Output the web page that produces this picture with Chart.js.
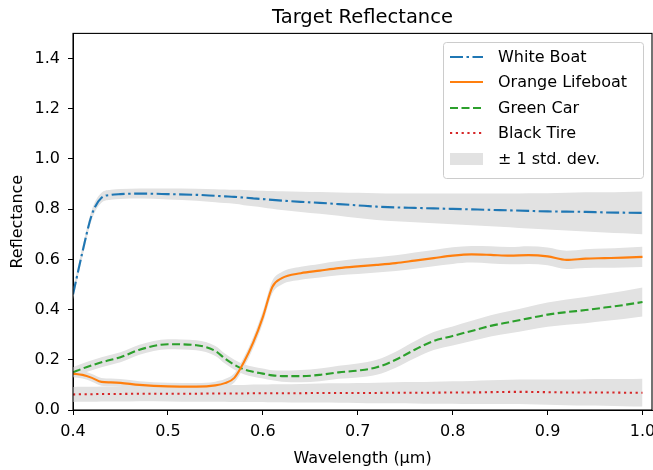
<!DOCTYPE html>
<html>
<head>
<meta charset="utf-8">
<script src="https://cdn.jsdelivr.net/npm/chart.js@4/dist/chart.umd.min.js"></script>
<style>
  html, body { margin: 0; padding: 0; background: #fff; }
  #wrap { width: 653px; height: 470px; }
</style>
</head>
<body>
<div id="wrap"><canvas id="refl" width="653" height="470"></canvas></div>
<script>
// spectral samples (µm)
const wavelengths = [0.40, 0.41, 0.42, 0.43, 0.44, 0.45, 0.47, 0.50, 0.53, 0.55, 0.56, 0.57,
  0.58, 0.59, 0.60, 0.61, 0.62, 0.64, 0.66, 0.68, 0.70, 0.72, 0.74, 0.76,
  0.78, 0.80, 0.82, 0.84, 0.86, 0.88, 0.90, 0.92, 0.94, 0.96, 0.98, 1.00];

const whiteBoat = [0.46, 0.63, 0.78, 0.845, 0.857, 0.86, 0.862, 0.86, 0.857, 0.853, 0.851, 0.849,
  0.846, 0.843, 0.84, 0.837, 0.834, 0.829, 0.825, 0.82, 0.815, 0.81, 0.807, 0.805,
  0.803, 0.801, 0.799, 0.797, 0.795, 0.793, 0.791, 0.79, 0.789, 0.787, 0.786, 0.785];
const whiteBoatStd = [0.02, 0.02, 0.02, 0.02, 0.02, 0.02, 0.02, 0.022, 0.024, 0.026, 0.027, 0.028,
  0.03, 0.031, 0.033, 0.035, 0.037, 0.04, 0.043, 0.046, 0.05, 0.053, 0.055, 0.057,
  0.059, 0.061, 0.063, 0.065, 0.067, 0.07, 0.072, 0.075, 0.078, 0.08, 0.082, 0.085];

const orangeLifeboat = [0.145, 0.14, 0.128, 0.112, 0.11, 0.108, 0.1, 0.094, 0.093, 0.098, 0.107, 0.128,
  0.19, 0.27, 0.37, 0.49, 0.525, 0.545, 0.555, 0.565, 0.572, 0.578, 0.585, 0.595,
  0.605, 0.615, 0.62, 0.618, 0.615, 0.617, 0.612, 0.598, 0.603, 0.605, 0.607, 0.61];
const orangeLifeboatStd = [0.015, 0.015, 0.015, 0.015, 0.015, 0.015, 0.015, 0.015, 0.015, 0.015, 0.016, 0.018,
  0.02, 0.022, 0.024, 0.025, 0.025, 0.026, 0.027, 0.028, 0.03, 0.03, 0.031, 0.032,
  0.032, 0.033, 0.033, 0.034, 0.034, 0.035, 0.035, 0.036, 0.037, 0.038, 0.039, 0.04];

const greenCar = [0.15, 0.165, 0.178, 0.19, 0.2, 0.21, 0.24, 0.262, 0.258, 0.235, 0.205, 0.18,
  0.162, 0.152, 0.145, 0.138, 0.135, 0.135, 0.14, 0.15, 0.157, 0.17, 0.2, 0.24,
  0.275, 0.295, 0.315, 0.335, 0.35, 0.365, 0.38, 0.39, 0.398, 0.408, 0.418, 0.43];
const greenCarStd = [0.02, 0.02, 0.02, 0.02, 0.02, 0.02, 0.02, 0.02, 0.02, 0.02, 0.02, 0.02,
  0.02, 0.02, 0.02, 0.02, 0.022, 0.024, 0.025, 0.026, 0.028, 0.03, 0.032, 0.034,
  0.036, 0.038, 0.04, 0.042, 0.044, 0.046, 0.048, 0.05, 0.052, 0.054, 0.056, 0.058];

const blackTire = [0.062, 0.063, 0.063, 0.064, 0.064, 0.064, 0.065, 0.065, 0.065, 0.066, 0.066, 0.066,
  0.066, 0.067, 0.067, 0.067, 0.067, 0.067, 0.068, 0.068, 0.068, 0.068, 0.069, 0.069,
  0.069, 0.07, 0.07, 0.071, 0.072, 0.072, 0.071, 0.07, 0.07, 0.07, 0.069, 0.069];
const blackTireStd = [0.03, 0.03, 0.03, 0.03, 0.03, 0.03, 0.03, 0.031, 0.032, 0.033, 0.033, 0.034,
  0.034, 0.035, 0.035, 0.036, 0.036, 0.037, 0.038, 0.039, 0.04, 0.041, 0.042, 0.043,
  0.044, 0.045, 0.046, 0.047, 0.048, 0.049, 0.05, 0.051, 0.052, 0.053, 0.054, 0.055];

const xTicks = [0.4, 0.5, 0.6, 0.7, 0.8, 0.9, 1.0];
const yTicks = [0.0, 0.2, 0.4, 0.6, 0.8, 1.0, 1.2, 1.4];

const FONT = "'DejaVu Sans', sans-serif";
const BAND = "#e2e2e2";

const targets = [
  { label: "White Boat",      mean: whiteBoat,      std: whiteBoatStd,      color: "#1f77b4", dash: [13, 3.5, 2.5, 3.5] },
  { label: "Orange Lifeboat", mean: orangeLifeboat, std: orangeLifeboatStd, color: "#ff7f0e", dash: [] },
  { label: "Green Car",       mean: greenCar,       std: greenCarStd,       color: "#2ca02c", dash: [8, 3.5] },
  { label: "Black Tire",      mean: blackTire,      std: blackTireStd,      color: "#d62728", dash: [2.2, 3.6] },
];

const pts = (arr) => wavelengths.map((w, i) => ({ x: w, y: arr[i] }));

// shaded ±1σ bands go first (upper fills down to the lower dataset), lines on top
const datasets = [];
targets.forEach((t) => {
  datasets.push({
    label: t.label + " +1σ",
    data: pts(t.mean.map((v, i) => v + t.std[i])),
    borderWidth: 0, pointRadius: 0, backgroundColor: BAND,
    cubicInterpolationMode: "monotone", fill: "+1", order: 2,
  });
  datasets.push({
    label: t.label + " -1σ",
    data: pts(t.mean.map((v, i) => v - t.std[i])),
    borderWidth: 0, pointRadius: 0, backgroundColor: BAND,
    cubicInterpolationMode: "monotone", fill: false, order: 2,
  });
});
targets.forEach((t) => {
  datasets.push({
    label: t.label,
    data: pts(t.mean),
    borderColor: t.color, borderWidth: 2.1, borderDash: t.dash,
    pointRadius: 0, fill: false, cubicInterpolationMode: "monotone", order: 1,
  });
});

// matplotlib-style box around the axes
const frame = {
  id: "frame",
  afterDatasetsDraw(chart) {
    const { ctx, chartArea: a } = chart;
    ctx.save();
    ctx.strokeStyle = "#000";
    ctx.lineWidth = 1.1;
    ctx.strokeRect(a.left, a.top, a.right - a.left, a.bottom - a.top);
    ctx.restore();
  },
};

const legendBox = {
  id: "legendBox",
  afterDraw(chart) {
    const { ctx } = chart;
    const x0 = 443, y0 = 42, w = 200, h = 136;
    ctx.save();
    ctx.fillStyle = "rgba(255,255,255,0.8)";
    ctx.strokeStyle = "#cccccc";
    ctx.lineWidth = 1;
    ctx.beginPath();
    ctx.roundRect(x0 + 0.5, y0 + 0.5, w, h, 3);
    ctx.fill();
    ctx.stroke();

    ctx.font = "16px " + FONT;
    ctx.textBaseline = "middle";
    const rowY = [57, 82, 108, 133, 159];
    targets.forEach((t, i) => {
      ctx.strokeStyle = t.color;
      ctx.lineWidth = 2.1;
      ctx.setLineDash(t.dash);
      ctx.beginPath();
      ctx.moveTo(450, rowY[i]);
      ctx.lineTo(483, rowY[i]);
      ctx.stroke();
      ctx.setLineDash([]);
      ctx.fillStyle = "#000";
      ctx.fillText(t.label, 498, rowY[i] + 1);
    });
    ctx.fillStyle = BAND;
    ctx.fillRect(450, rowY[4] - 6, 33, 12);
    ctx.fillStyle = "#000";
    ctx.fillText("± 1 std. dev.", 498, rowY[4] + 1);
    ctx.restore();
  },
};

const tickFont = { family: FONT, size: 16 };

new Chart(document.getElementById("refl"), {
  type: "line",
  data: { datasets },
  plugins: [frame, legendBox],
  options: {
    responsive: false,
    devicePixelRatio: 1,
    animation: false,
    layout: { padding: { top: 0, right: 1, bottom: 0, left: 0 } },
    plugins: {
      legend: { display: false },
      tooltip: { enabled: false },
      title: {
        display: true, text: "Target Reflectance", fullSize: false,
        color: "#000", font: { family: FONT, size: 19.5, weight: "normal" },
        padding: { top: 6, bottom: 4 },
      },
    },
    scales: {
      x: {
        type: "linear", min: 0.4, max: 1.01,
        afterBuildTicks: (s) => { s.ticks = xTicks.map((v) => ({ value: v })); },
        afterFit: (s) => { s.height = 60; s.paddingLeft = 0; s.paddingRight = 0; },
        ticks: { color: "#000", font: tickFont, padding: 7, maxRotation: 0, callback: (v) => v.toFixed(1) },
        grid: { drawOnChartArea: false, tickLength: 5, color: "#000" },
        border: { display: true, color: "#000" },
        title: { display: true, text: "Wavelength (μm)", color: "#000", font: tickFont, padding: { top: 4, bottom: 2 } },
      },
      y: {
        min: 0, max: 1.5,
        afterBuildTicks: (s) => { s.ticks = yTicks.map((v) => ({ value: v })); },
        afterFit: (s) => { s.width = 73; s.paddingTop = 0; s.paddingBottom = 0; },
        ticks: { color: "#000", font: tickFont, padding: 8, callback: (v) => v.toFixed(1) },
        grid: { drawOnChartArea: false, tickLength: 5, color: "#000" },
        border: { display: true, color: "#000" },
        title: { display: true, text: "Reflectance", color: "#000", font: tickFont, padding: { top: 8, bottom: 0 } },
      },
    },
  },
});
</script>
</body>
</html>
